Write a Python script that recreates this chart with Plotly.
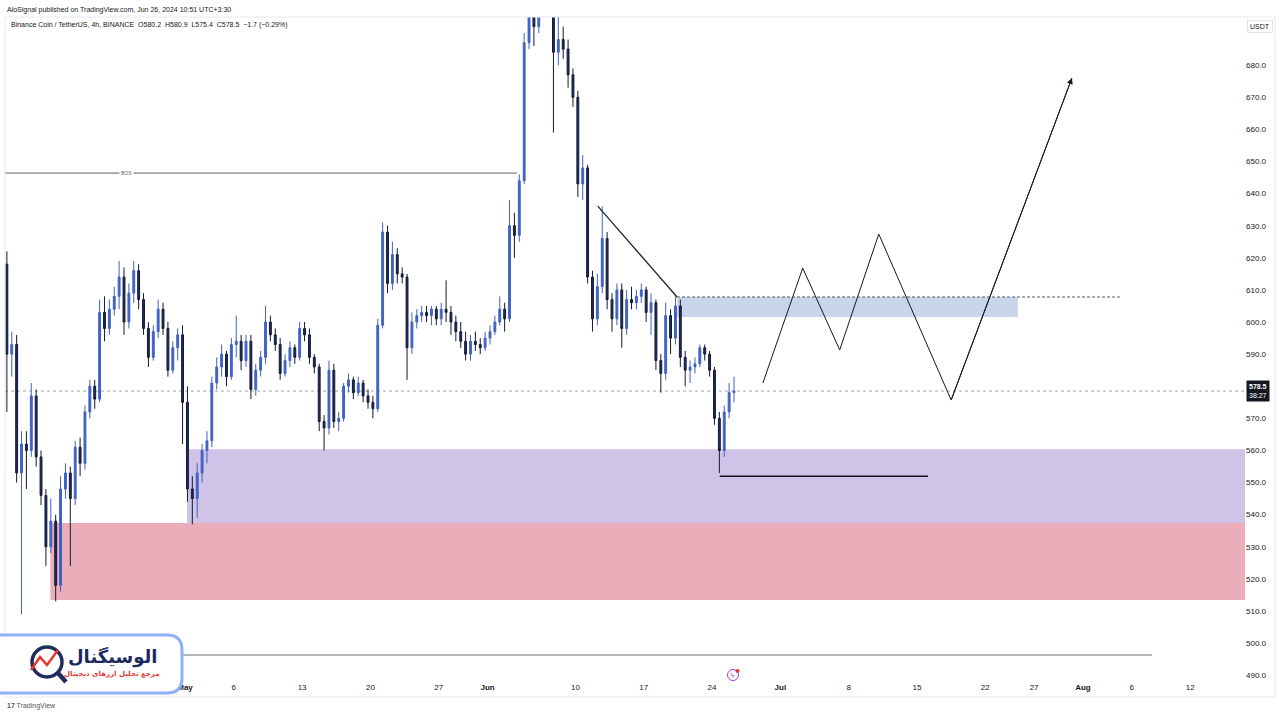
import plotly.graph_objects as go
import pandas as pd

# ---------------- data (12h candles) ----------------
opens = [618,590,593,553,562,560,577,558,546,530,538,518,548,553,545,561,556,572,580,576,
         603,598,604,608,614,600,609,616,607,598,589,597,604,598,585,592,596,575,548,545,
         553,560,563,581,586,590,583,593,594,588,594,579,585,589,600,596,593,584,588,592,
         589,598,596,589,586,569,567,585,569,570,580,582,578,581,577,575,573,599,628,612,
         621,615,614,592,600,602,603,602,604,601,604,603,600,597,594,590,594,593,592,595,
         597,600,604,601,630,627,644,687,700,692,710,705,700,684,688,685,677,670,643,648,
         614,601,611,626,607,601,610,598,607,606,608,610,603,606,588,584,602,595,605,589,
         585,586,587,592,590,585,570,560,572,578]
highs = [622,597,596,566,566,581,579,560,548,545,540,552,556,555,563,564,574,582,582,607,
         608,607,611,619,617,612,619,618,609,600,599,607,606,600,594,598,599,580,552,556,
         562,566,583,589,593,591,595,602,596,596,596,587,591,605,602,598,595,590,594,593,
         600,600,598,590,587,571,588,587,572,581,584,583,583,582,579,577,601,631,630,625,
         623,617,615,603,604,605,605,605,605,606,613,605,602,600,597,596,597,595,597,599,
         602,608,606,638,634,646,690,705,712,715,721,712,706,700,692,688,679,672,652,649,
         616,615,636,628,609,612,612,610,611,610,612,611,609,607,590,606,604,608,607,591,
         588,589,593,593,591,586,572,574,581,583]
lows = [572,583,550,509,548,558,555,543,524,528,513,516,545,524,543,552,554,570,573,575,
        594,596,602,604,596,598,606,604,596,586,588,595,596,583,584,588,562,544,537,539,
        550,556,561,579,583,580,582,589,585,586,576,577,583,587,594,591,582,583,586,587,
        588,594,587,584,566,560,565,567,566,569,578,576,577,575,573,570,572,598,609,610,
        612,612,582,590,598,600,600,599,599,599,600,596,594,592,588,588,591,590,591,593,
        596,599,597,600,620,625,643,685,686,690,700,695,659,680,682,673,667,639,638,612,
        597,599,609,604,597,599,592,596,604,604,606,600,596,585,578,582,590,593,586,580,
        581,584,586,588,583,568,553,558,570,575]
closes = [590,593,553,562,560,577,558,546,530,538,518,548,553,545,561,556,572,580,576,603,
          598,604,608,614,600,609,616,607,598,589,597,604,598,585,592,596,575,548,545,553,
          560,563,581,586,590,583,593,594,588,594,579,585,589,600,596,593,584,588,592,589,
          598,596,589,586,569,567,585,569,570,580,582,578,581,577,575,573,599,628,612,621,
          615,614,592,600,602,603,602,604,601,604,603,600,597,594,590,594,593,592,595,597,
          600,604,601,630,627,644,687,700,692,710,705,700,684,688,685,677,670,643,648,614,
          601,611,626,607,601,610,598,607,606,608,610,603,606,588,584,602,595,605,589,585,
          586,587,592,590,585,570,560,572,578,578.5]
first_candle = "2024-04-12 18:00"   # centre of first 12h bar

# drawing-tool objects
bos_price = 646.4
bos_dates = ["2024-04-12 13:22", "2024-06-04 00:45"]
bos_label_date = "2024-04-25 01:00"
trend_dates = ["2024-06-12 07:00", "2024-06-20 10:00"]
trend_prices = [636.1, 607.8]
supply_dates = ["2024-06-20 10:00", "2024-07-25 08:00"]
supply_prices = [601.6, 607.8]
supply_dash_end = "2024-08-04 19:00"
demand_dates = ["2024-05-01 05:00", "2024-08-17 14:34"]
demand_prices = [537.4, 560.4]
pink_dates = ["2024-04-17 05:00", "2024-08-17 14:34"]
pink_prices = [513.4, 537.4]
low_line_dates = ["2024-06-24 19:00", "2024-07-16 03:00"]
low_line_price = 552.0
bottom_line_dates = ["2024-04-12 13:22", "2024-08-08 02:00"]
bottom_line_price = 496.3
zig_dates = ["2024-06-29 05:00", "2024-07-03 07:00", "2024-07-07 02:00",
             "2024-07-11 02:00", "2024-07-18 12:00", "2024-07-30 21:00"]
zig_prices = [581.0, 616.8, 591.3, 627.4, 575.7, 676.0]
last_price = 578.5

x_range = ["2024-04-12 13:22", "2024-08-17 14:34"]
y_range = [488.2, 695.0]
xtick_vals = ["2024-05-01", "2024-05-06", "2024-05-13", "2024-05-20", "2024-05-27",
              "2024-06-01", "2024-06-10", "2024-06-17", "2024-06-24", "2024-07-01",
              "2024-07-08", "2024-07-15", "2024-07-22", "2024-07-27", "2024-08-01",
              "2024-08-06", "2024-08-12"]
xtick_text = ["<b>May</b>", "6", "13", "20", "27", "<b>Jun</b>", "10", "17", "24",
              "<b>Jul</b>", "8", "15", "22", "27", "<b>Aug</b>", "6", "12"]
ytick_vals = [490, 500, 510, 520, 530, 540, 550, 560, 570, 590, 600, 610, 620, 630,
              640, 650, 660, 670, 680]

# ---------------- figure ----------------
times = pd.date_range(first_candle, periods=len(closes), freq="12h")

fig = go.Figure()
fig.add_trace(go.Candlestick(
    x=times, open=opens, high=highs, low=lows, close=closes,
    increasing=dict(line=dict(color="#4062c4", width=1), fillcolor="#4062c4"),
    decreasing=dict(line=dict(color="#141a30", width=1), fillcolor="#1d2c6b"),
    whiskerwidth=0, showlegend=False, hoverinfo="skip"))

fig.add_trace(go.Scatter(x=zig_dates, y=zig_prices, mode="lines",
                         line=dict(color="#131722", width=1), showlegend=False,
                         hoverinfo="skip"))

PL, PR, PT, PB = 5, 1245, 17, 681


def px(x):
    return (x - PL) / (PR - PL)


def py(y):
    return (PB - y) / (PB - PT)


shapes = []
# zones
shapes.append(dict(type="rect", xref="x", yref="y", x0=pink_dates[0], x1=pink_dates[1],
                   y0=pink_prices[0], y1=pink_prices[1], fillcolor="#ebadb9",
                   line=dict(width=0), layer="below"))
shapes.append(dict(type="rect", xref="x", yref="y", x0=demand_dates[0], x1=demand_dates[1],
                   y0=demand_prices[0], y1=demand_prices[1], fillcolor="#cfc3e7",
                   line=dict(width=0), layer="below"))
shapes.append(dict(type="rect", xref="x", yref="y", x0=supply_dates[0], x1=supply_dates[1],
                   y0=supply_prices[0], y1=supply_prices[1], fillcolor="#c8d5eb",
                   line=dict(width=0), layer="below"))
shapes.append(dict(type="line", xref="x", yref="y", x0=supply_dates[0], x1=supply_dash_end,
                   y0=supply_prices[1], y1=supply_prices[1],
                   line=dict(color="#555866", width=1, dash="3px,2px")))
# last price dotted line
shapes.append(dict(type="line", xref="paper", yref="y", x0=0, x1=1, y0=last_price,
                   y1=last_price, line=dict(color="#a3a6af", width=1, dash="dot"),
                   layer="below"))
# BOS
shapes.append(dict(type="line", xref="x", yref="y", x0=bos_dates[0], x1=bos_dates[1],
                   y0=bos_price, y1=bos_price, line=dict(color="#5d606b", width=1)))
# trend line
shapes.append(dict(type="line", xref="x", yref="y", x0=trend_dates[0], x1=trend_dates[1],
                   y0=trend_prices[0], y1=trend_prices[1],
                   line=dict(color="#222222", width=1.3)))
# low line
shapes.append(dict(type="line", xref="x", yref="y", x0=low_line_dates[0], x1=low_line_dates[1],
                   y0=low_line_price, y1=low_line_price, line=dict(color="#131722", width=1.5)))
# bottom line
shapes.append(dict(type="line", xref="x", yref="y", x0=bottom_line_dates[0],
                   x1=bottom_line_dates[1], y0=bottom_line_price, y1=bottom_line_price,
                   line=dict(color="#6a6d78", width=1.2)))
# frame
shapes.append(dict(type="rect", xref="paper", yref="paper", x0=px(5), x1=px(1275),
                   y0=py(697), y1=py(17), line=dict(color="#e6e8ee", width=1)))

# logo box
logo_path = ("M {a},{b} L {c},{b} Q {d},{b} {d},{e} L {d},{f} Q {d},{g} {c},{g} L {a},{g} Z"
             .format(a=px(-6), b=py(635), c=px(167), d=px(182), e=py(650), f=py(678), g=py(693)))
shapes.append(dict(type="path", xref="paper", yref="paper", path=logo_path,
                   fillcolor="white", line=dict(color="#8fb0f7", width=3)))
# logo icon
shapes.append(dict(type="circle", xref="paper", yref="paper", x0=px(32), x1=px(62),
                   y0=py(677), y1=py(647), line=dict(color="#1f2d5c", width=3.5),
                   fillcolor="white"))
shapes.append(dict(type="line", xref="paper", yref="paper", x0=px(58), y0=py(673),
                   x1=px(66), y1=py(682), line=dict(color="#1f2d5c", width=4.5)))
zz = [(31, 670), (40, 657), (47, 665), (58, 650)]
zz_path = "M " + " L ".join(f"{px(a)},{py(b)}" for a, b in zz)
shapes.append(dict(type="path", xref="paper", yref="paper", path=zz_path,
                   line=dict(color="#e8362f", width=2.5)))
# lightning icon circle
shapes.append(dict(type="circle", xref="paper", yref="paper", x0=px(727.5), x1=px(738.5),
                   y0=py(680.5), y1=py(669.5), line=dict(color="#a43fc6", width=1)))
shapes.append(dict(type="circle", xref="paper", yref="paper", x0=px(735.5), x1=px(739.5),
                   y0=py(673), y1=py(669), line=dict(width=0), fillcolor="#e53935"))

annotations = []
annotations.append(dict(xref="paper", yref="paper", x=px(5), y=py(10), xanchor="left",
                        yanchor="middle", showarrow=False,
                        text="AloSignal published on TradingView.com, Jun 26, 2024 10:51 UTC+3:30",
                        font=dict(size=7, color="#131722", family="Liberation Sans")))
annotations.append(dict(xref="paper", yref="paper", x=px(9), y=py(25), xanchor="left",
                        yanchor="middle", showarrow=False,
                        text="Binance Coin / TetherUS, 4h, BINANCE  O580.2  H580.9  L575.4  C578.5  \u22121.7 (\u22120.29%)",
                        font=dict(size=7, color="#131722", family="Liberation Sans")))
annotations.append(dict(xref="x", yref="y", x=bos_label_date, y=bos_price, showarrow=False,
                        xanchor="center", text="BOS", bgcolor="white", borderpad=1,
                        font=dict(size=5, color="#5d606b", family="Liberation Sans")))
# arrow head of projection
annotations.append(dict(xref="x", yref="y", axref="x", ayref="y", x=zig_dates[-1],
                        y=zig_prices[-1], ax=zig_dates[-2], ay=zig_prices[-2], text="",
                        showarrow=True, arrowhead=2, arrowsize=1.2, arrowwidth=1,
                        arrowcolor="#131722"))
# USDT label
annotations.append(dict(xref="paper", yref="paper", x=px(1260), y=py(27), showarrow=False,
                        xanchor="center", yanchor="middle",
                        text="USDT", bgcolor="white", bordercolor="#e0e3eb", borderwidth=1,
                        borderpad=2, font=dict(size=7, color="#131722", family="Liberation Sans")))
# price label
annotations.append(dict(xref="paper", yref="y", x=px(1246), y=last_price, xanchor="left",
                        yanchor="middle", showarrow=False,
                        text="<b>578.5</b><br>38:27", bgcolor="#131722", borderpad=2,
                        align="left",
                        font=dict(size=7, color="white", family="Liberation Sans")))
# logo texts
annotations.append(dict(xref="paper", yref="paper", x=px(112), y=py(657), showarrow=False,
                        xanchor="center", yanchor="middle",
                        text="<b>الوسیگنال</b>",
                        font=dict(size=18, color="#1b2a5e", family="DejaVu Sans")))
annotations.append(dict(xref="paper", yref="paper", x=px(112), y=py(674), showarrow=False,
                        xanchor="center", yanchor="middle",
                        text="<b>مرجع تحلیل ارزهای دیجیتال</b>",
                        font=dict(size=7, color="#e53935", family="DejaVu Sans")))
# lightning glyph
annotations.append(dict(xref="paper", yref="paper", x=px(733), y=py(675.5), showarrow=False,
                        xanchor="center", yanchor="middle", text="ϟ",
                        font=dict(size=7, color="#a43fc6", family="DejaVu Sans")))
# footer
annotations.append(dict(xref="paper", yref="paper", x=px(5), y=py(706), xanchor="left",
                        yanchor="middle", showarrow=False,
                        text="<b>17</b> TradingView",
                        font=dict(size=7, color="#50535e", family="Liberation Sans")))

fig.update_layout(
    width=1280, height=720, autosize=False,
    margin=dict(l=PL, r=1280 - PR, t=PT, b=720 - PB),
    paper_bgcolor="white", plot_bgcolor="white",
    shapes=shapes, annotations=annotations, showlegend=False,
    boxgap=0.45,
    xaxis=dict(type="date", range=x_range, tickvals=xtick_vals, ticktext=xtick_text,
               showgrid=False, zeroline=False, showline=False, ticks="",
               rangeslider=dict(visible=False),
               tickfont=dict(size=8, color="#131722", family="Liberation Sans")),
    yaxis=dict(side="right", range=y_range, tickvals=ytick_vals,
               ticktext=[f"{v:.1f}" for v in ytick_vals], showgrid=False, zeroline=False,
               showline=False, ticks="",
               tickfont=dict(size=8, color="#131722", family="Liberation Sans")),
)

fig.write_html("out.html", config={"displayModeBar": False},
               post_script="document.body.style.margin='0';document.body.style.overflow='hidden';")
